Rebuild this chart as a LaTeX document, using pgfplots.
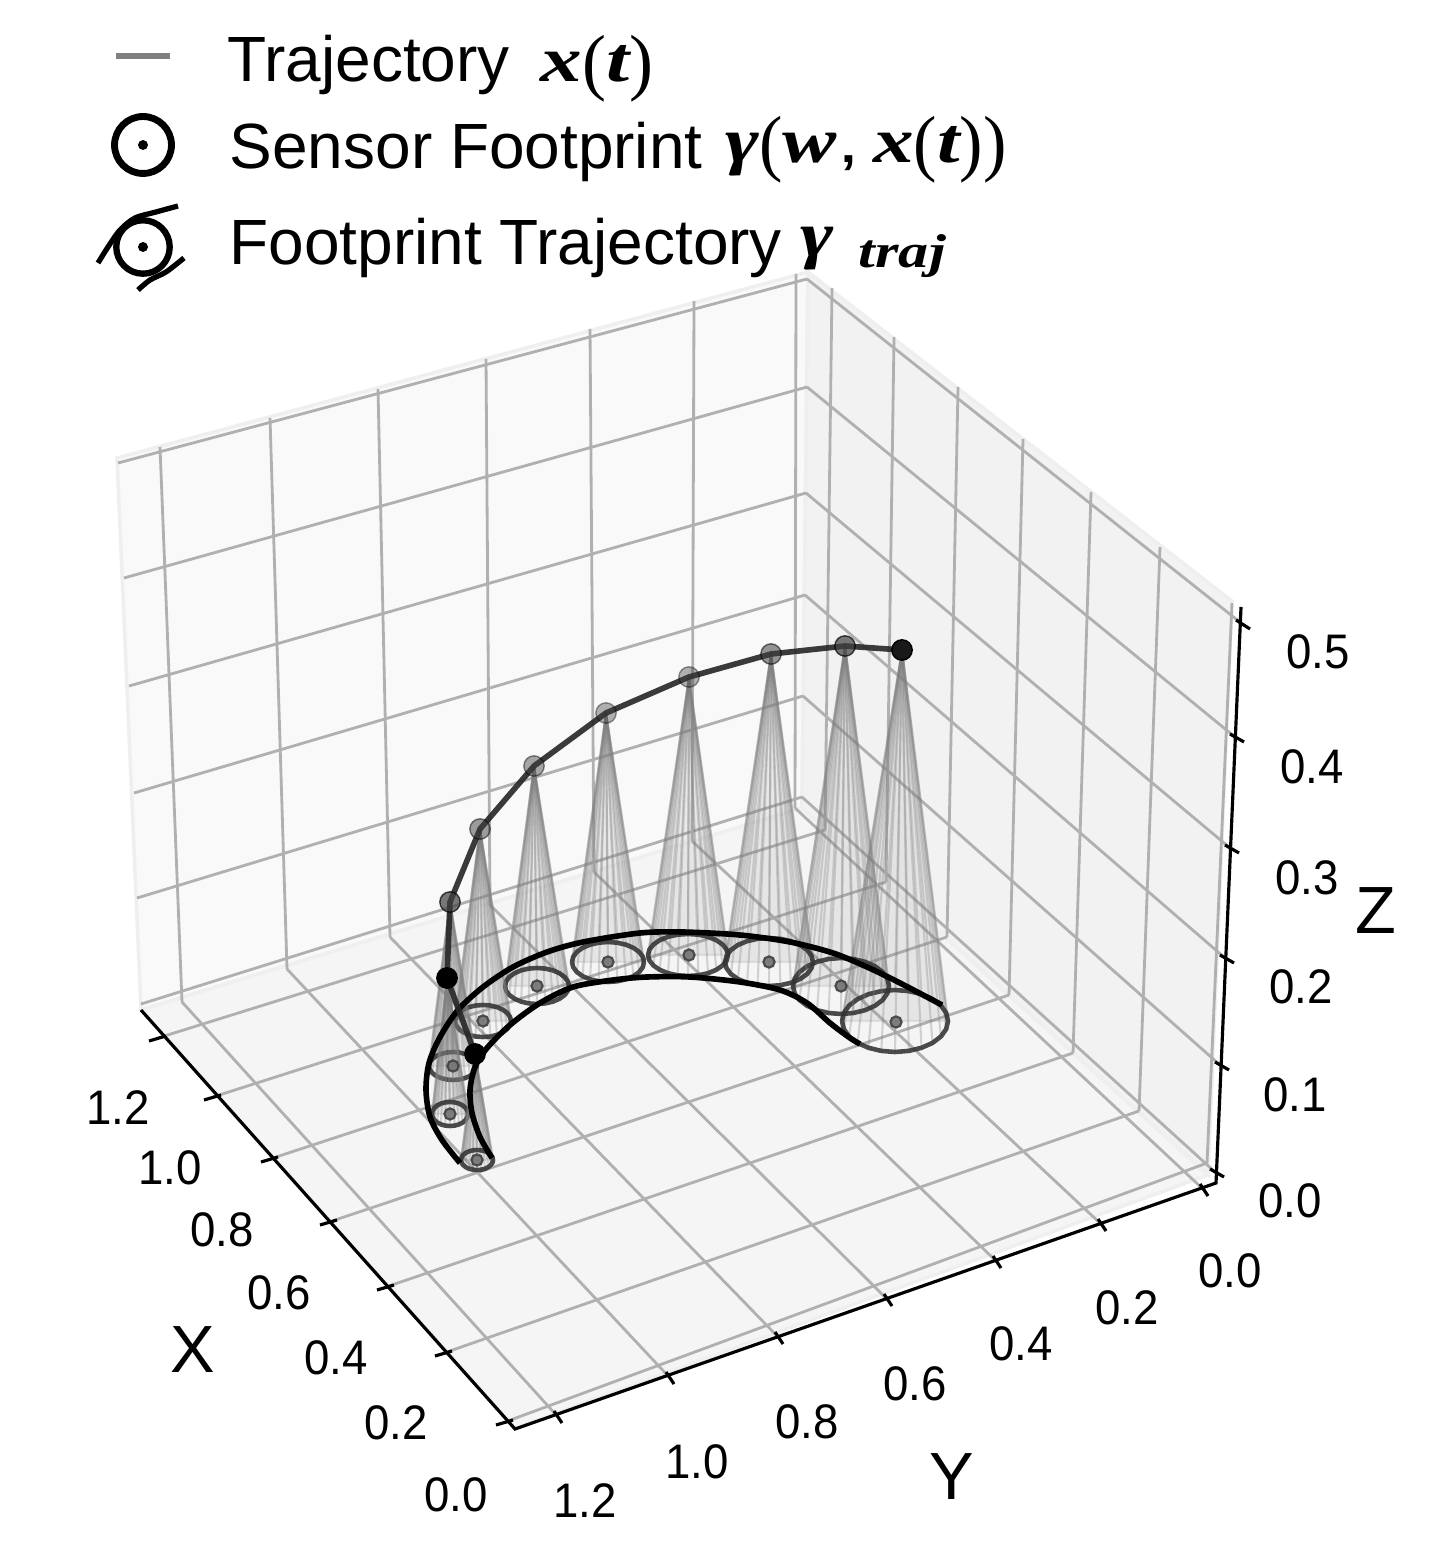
\documentclass[border=0pt]{standalone}
\usepackage{fontspec}
\setmainfont{Liberation Sans}
\newfontfamily\mf{Liberation Serif}
\usepackage{pgfplots}
\usepackage{pgfplotstable}
\pgfplotsset{compat=1.18}

\definecolor{gridc}{HTML}{B0B0B0}
\definecolor{paneL}{HTML}{F9F9F9}
\definecolor{paneR}{HTML}{F2F2F2}
\definecolor{paneF}{HTML}{F5F5F5}
\definecolor{paneE}{HTML}{EFEFEF}

% footprint outlines on the floor, in picture pixels
\pgfplotstableread[row sep=\\]{x y\\493 1160\\492.5 1157.4\\490.9 1155\\488.3 1152.9\\485 1151.3\\481.1 1150.3\\477 1150\\472.9 1150.3\\469 1151.3\\465.7 1152.9\\463.1 1155\\461.5 1157.4\\461 1160\\461.5 1162.6\\463.1 1165\\465.7 1167.1\\469 1168.7\\472.9 1169.7\\477 1170\\481.1 1169.7\\485 1168.7\\488.3 1167.1\\490.9 1165\\492.5 1162.6\\}\Ea
\pgfplotstableread[row sep=\\]{x y\\468 1114\\467.4 1110.9\\465.6 1108\\462.7 1105.5\\459 1103.6\\454.7 1102.4\\450 1102\\445.3 1102.4\\441 1103.6\\437.3 1105.5\\434.4 1108\\432.6 1110.9\\432 1114\\432.6 1117.1\\434.4 1120\\437.3 1122.5\\441 1124.4\\445.3 1125.6\\450 1126\\454.7 1125.6\\459 1124.4\\462.7 1122.5\\465.6 1120\\467.4 1117.1\\}\Eb
\pgfplotstableread[row sep=\\]{x y\\477 1066\\476.2 1062.4\\473.8 1059\\470 1056.1\\465 1053.9\\459.2 1052.5\\453 1052\\446.8 1052.5\\441 1053.9\\436 1056.1\\432.2 1059\\429.8 1062.4\\429 1066\\429.8 1069.6\\432.2 1073\\436 1075.9\\441 1078.1\\446.8 1079.5\\453 1080\\459.2 1079.5\\465 1078.1\\470 1075.9\\473.8 1073\\476.2 1069.6\\}\Ec
\pgfplotstableread[row sep=\\]{x y\\511 1021\\510 1016.9\\507.2 1013\\502.8 1009.7\\497 1007.1\\490.3 1005.5\\483 1005\\475.7 1005.5\\469 1007.1\\463.2 1009.7\\458.8 1013\\456 1016.9\\455 1021\\456 1025.1\\458.8 1029\\463.2 1032.3\\469 1034.9\\475.7 1036.5\\483 1037\\490.3 1036.5\\497 1034.9\\502.8 1032.3\\507.2 1029\\510 1025.1\\}\Ed
\pgfplotstableread[row sep=\\]{x y\\569 986\\567.9 981.3\\564.7 977\\559.6 973.3\\553 970.4\\545.3 968.6\\537 968\\528.7 968.6\\521 970.4\\514.4 973.3\\509.3 977\\506.1 981.3\\505 986\\506.1 990.7\\509.3 995\\514.4 998.7\\521 1001.6\\528.7 1003.4\\537 1004\\545.3 1003.4\\553 1001.6\\559.6 998.7\\564.7 995\\567.9 990.7\\}\Ee
\pgfplotstableread[row sep=\\]{x y\\644 962\\642.8 956.8\\639.2 952\\633.5 947.9\\626 944.7\\617.3 942.7\\608 942\\598.7 942.7\\590 944.7\\582.5 947.9\\576.8 952\\573.2 956.8\\572 962\\573.2 967.2\\576.8 972\\582.5 976.1\\590 979.3\\598.7 981.3\\608 982\\617.3 981.3\\626 979.3\\633.5 976.1\\639.2 972\\642.8 967.2\\}\Ef
\pgfplotstableread[row sep=\\]{x y\\728 955\\726.6 949.6\\722.6 944.5\\716.3 940.2\\708 936.8\\698.4 934.7\\688 934\\677.6 934.7\\668 936.8\\659.7 940.2\\653.4 944.5\\649.4 949.6\\648 955\\649.4 960.4\\653.4 965.5\\659.7 969.8\\668 973.2\\677.6 975.3\\688 976\\698.4 975.3\\708 973.2\\716.3 969.8\\722.6 965.5\\726.6 960.4\\}\Eg
\pgfplotstableread[row sep=\\]{x y\\813 962\\811.5 955.8\\807.1 950\\800.1 945\\791 941.2\\780.4 938.8\\769 938\\757.6 938.8\\747 941.2\\737.9 945\\730.9 950\\726.5 955.8\\725 962\\726.5 968.2\\730.9 974\\737.9 979\\747 982.8\\757.6 985.2\\769 986\\780.4 985.2\\791 982.8\\800.1 979\\807.1 974\\811.5 968.2\\}\Eh
\pgfplotstableread[row sep=\\]{x y\\889 986\\887.4 978.7\\882.6 972\\874.9 966.2\\865 961.8\\853.4 959\\841 958\\828.6 959\\817 961.8\\807.1 966.2\\799.4 972\\794.6 978.7\\793 986\\794.6 993.3\\799.4 1000\\807.1 1005.8\\817 1010.2\\828.6 1013\\841 1014\\853.4 1013\\865 1010.2\\874.9 1005.8\\882.6 1000\\887.4 993.3\\}\Ei
\pgfplotstableread[row sep=\\]{x y\\948 1021\\946.2 1013\\940.9 1005.5\\932.5 999.1\\921.5 994.2\\908.7 991.1\\895 990\\881.3 991.1\\868.5 994.2\\857.5 999.1\\849.1 1005.5\\843.8 1013\\842 1021\\843.8 1029\\849.1 1036.5\\857.5 1042.9\\868.5 1047.8\\881.3 1050.9\\895 1052\\908.7 1050.9\\921.5 1047.8\\932.5 1042.9\\940.9 1036.5\\946.2 1029\\}\Ej

% cone from sensor #2,#3 down to outline #1, whose widest points are #4 and #5 at height #6
\newcommand\cone[6]{
  \addplot[fill=black!50, draw=black!55, line width=0.6pt, opacity=0.13] coordinates {(#2,#3) (#4,#6) (#5,#6)} -- cycle;
  \addplot[no markers, draw=black!50, line width=0.6pt, opacity=0.3,
    quiver={u=#2-\thisrow{x}, v=#3-\thisrow{y}}] table {#1};
  \addplot[draw=black!80, line width=1.3pt, opacity=0.88, line join=round] table {#1} -- cycle;
}
\newcommand\sensormark[4]{
  \addplot[only marks, mark=*, mark size=2.9pt, opacity=#3,
    mark options={fill=black!#4, draw=black}] coordinates {(#1,#2)};
}
\newcommand\ticklab[3]{\node[font=\fontsize{13.8}{16}\selectfont] at (axis cs:#1,#2) {\scalebox{0.94}[1]{#3}};}
\newcommand\axlab[3]{\node[font=\fontsize{19}{22}\selectfont] at (axis cs:#1,#2) {#3};}
\newcommand\mth[1]{{\mf\bfseries\itshape #1}}
% tall thin brackets, undoing the stretch of the formula round them
\newcommand\rp[1]{\raisebox{-1.2pt}{\scalebox{0.75}[1]{\mf\fontsize{21}{21}\selectfont #1}}}

\begin{document}
\begin{tikzpicture}
\path[use as bounding box] (0,0) rectangle (14.35cm,15.57cm);
\begin{axis}[
  at={(0,0)}, anchor=south west, scale only axis,
  width=14.35cm, height=15.57cm,
  xmin=0, xmax=1435, ymin=0, ymax=1557, y dir=reverse,
  hide axis, clip=false, unbounded coords=jump,
  gl/.style={draw=gridc, line width=0.8pt},
  ax/.style={draw=black, line width=0.9pt},
]
% panes
\addplot[fill=paneL, draw=paneE, line width=1pt] coordinates {(117,458) (808,272) (802,808) (141,1010)} -- cycle;
\addplot[fill=paneR, draw=paneE, line width=1pt] coordinates {(808,272) (1232,601) (1208,1175) (802,808)} -- cycle;
\addplot[fill=paneF, draw=paneE, line width=1pt] coordinates {(141,1010) (802,808) (1208,1175) (515,1428)} -- cycle;

% wall grid, left wall
\addplot[gl] coordinates {(118,463) (807,279) (nan,nan) (124,578) (807,387) (nan,nan)
  (129,686) (806,493) (nan,nan) (134,793) (805,595) (nan,nan) (137,898) (803,696) (nan,nan) (141,1004) (802,797)};
\addplot[gl] coordinates {(160,447) (182,1002) (nan,nan) (270,418) (287,969) (nan,nan) (378,389) (390,937) (nan,nan)
  (486,359) (490,905) (nan,nan) (590,329) (594,872) (nan,nan) (694,301) (692,841) (nan,nan) (796,274) (795,808)};
% right wall
\addplot[gl] coordinates {(807,279) (1241,623) (nan,nan) (807,387) (1235,737) (nan,nan) (806,493) (1230,848) (nan,nan)
  (805,595) (1225,958) (nan,nan) (803,696) (1220,1065) (nan,nan) (802,797) (1215,1172)};
\addplot[gl] coordinates {(832,288) (825,830) (nan,nan) (894,337) (886,882) (nan,nan) (958,387) (947,937) (nan,nan)
  (1023,439) (1009,995) (nan,nan) (1091,492) (1073,1053) (nan,nan) (1160,547) (1139,1111) (nan,nan) (1232,603) (1207,1163)};
% floor
\addplot[gl] coordinates {(158,1038) (825,830) (nan,nan) (213,1097) (886,882) (nan,nan) (270,1159) (947,937) (nan,nan)
  (329,1222) (1009,995) (nan,nan) (386,1287) (1073,1053) (nan,nan) (444,1353) (1139,1111) (nan,nan) (505,1422) (1207,1163)};
\addplot[gl] coordinates {(558,1417) (182,1002) (nan,nan) (670,1378) (287,969) (nan,nan) (779,1338) (390,937) (nan,nan)
  (888,1300) (490,905) (nan,nan) (997,1262) (594,872) (nan,nan) (1102,1225) (692,841) (nan,nan) (1204,1190) (795,808)};

% axis lines and ticks
\addplot[ax] coordinates {(141,1010) (515,1429) (1216,1183) (1241,607)};
\addplot[ax] coordinates {(149,1041) (166,1036) (nan,nan) (204,1100) (221,1095) (nan,nan) (261,1162) (278,1157) (nan,nan)
  (320,1225) (337,1220) (nan,nan) (377,1290) (394,1285) (nan,nan) (435,1356) (452,1351) (nan,nan) (496,1425) (513,1420)};
\addplot[ax] coordinates {(554,1411) (562,1423) (nan,nan) (666,1372) (674,1384) (nan,nan) (775,1332) (783,1344) (nan,nan)
  (884,1294) (892,1306) (nan,nan) (993,1256) (1001,1268) (nan,nan) (1098,1219) (1106,1231) (nan,nan) (1200,1184) (1208,1196)};
\addplot[ax] coordinates {(1236,620) (1250,629) (nan,nan) (1230,734) (1244,742) (nan,nan) (1225,845) (1239,853) (nan,nan)
  (1220,955) (1234,963) (nan,nan) (1215,1062) (1229,1070) (nan,nan) (1210,1169) (1224,1177)};

% cones and footprints
\cone{\Ej}{902}{650}{842}{948}{1021}
\cone{\Ei}{845}{646}{793}{889}{986}
\cone{\Eh}{771}{654}{725}{813}{962}
\cone{\Eg}{689}{677}{648}{728}{955}
\cone{\Ef}{606}{713}{572}{644}{962}
\cone{\Ee}{534}{766}{505}{569}{986}
\cone{\Ed}{480}{829}{455}{511}{1021}
\cone{\Ec}{450}{902}{429}{477}{1066}
\cone{\Eb}{447}{978}{432}{468}{1114}
\cone{\Ea}{475}{1054}{461}{493}{1160}

% footprint centres
\addplot[only marks, mark=*, mark size=1.6pt, mark options={fill=black!55, draw=black!75, line width=0.6pt}, opacity=0.9]
  coordinates {(477,1160) (450,1114) (453,1066) (483,1021) (537,986) (608,962) (689,955) (769,962) (841,986) (896,1022)};

% footprint trajectory, outer and inner edge
\addplot[smooth, draw=black, line width=1.6pt] coordinates {(460,1163) (442,1140) (430,1117) (426,1090) (429,1063) (440,1037)
  (458,1010) (483,987) (513,967) (547,952) (583,942) (640,933) (683,932) (740,935) (790,942) (833,953) (867,967) (900,983) (942,1005)};
\addplot[smooth, draw=black, line width=1.6pt] coordinates {(492,1158) (480,1137) (472,1113) (470,1090) (475,1067) (487,1048)
  (510,1025) (540,1003) (573,987) (613,980) (647,977) (690,977) (740,982) (780,990) (807,1003) (830,1023) (850,1038) (860,1044)};

% sensor trajectory
\addplot[draw=black!85, line width=1.6pt, opacity=0.9] coordinates {(475,1054) (447,978) (450,902) (480,829) (534,766) (606,713)
  (689,677) (771,654) (845,646) (902,650)};
\sensormark{606}{713}{0.4}{75}
\sensormark{689}{677}{0.4}{75}
\sensormark{534}{766}{0.45}{75}
\sensormark{480}{829}{0.5}{75}
\sensormark{771}{654}{0.55}{75}
\sensormark{450}{902}{0.7}{75}
\sensormark{845}{646}{0.7}{75}
\sensormark{902}{650}{1}{90}
\sensormark{447}{978}{1}{100}
\sensormark{475}{1054}{1}{100}

% tick labels
\ticklab{118}{1108}{1.2}
\ticklab{170}{1168}{1.0}
\ticklab{222}{1230}{0.8}
\ticklab{279}{1293}{0.6}
\ticklab{336}{1358}{0.4}
\ticklab{396}{1423}{0.2}
\ticklab{456}{1495}{0.0}
\ticklab{585}{1501}{1.2}
\ticklab{697}{1462}{1.0}
\ticklab{807}{1422}{0.8}
\ticklab{915}{1384}{0.6}
\ticklab{1021}{1344}{0.4}
\ticklab{1127}{1308}{0.2}
\ticklab{1230}{1271}{0.0}
\ticklab{1290}{1201}{0.0}
\ticklab{1295}{1095}{0.1}
\ticklab{1301}{987}{0.2}
\ticklab{1307}{878}{0.3}
\ticklab{1312}{767}{0.4}
\ticklab{1318}{652}{0.5}
\axlab{193}{1350}{X}
\axlab{952}{1477}{Y}
\axlab{1376}{911}{Z}

% legend
\addplot[draw=black!50, line width=1.7pt] coordinates {(116,56) (170,56)};
\addplot[only marks, mark=o, mark size=8.1pt, mark options={draw=black, line width=1.95pt}] coordinates {(143,145)};
\addplot[only marks, mark=*, mark size=1.2pt, mark options={fill=black, draw=black}] coordinates {(143,145) (143,247)};
\addplot[only marks, mark=o, mark size=7.6pt, mark options={draw=black, line width=1.8pt}] coordinates {(143,247)};
\addplot[smooth, draw=black, line width=1.5pt] coordinates {(98,263) (108,247) (120,230) (135,218) (156,212) (178,206)};
\addplot[smooth, draw=black, line width=1.5pt] coordinates {(138,290) (150,280) (166,272) (184,258)};
\tikzset{lg/.style={anchor=base west, inner sep=0pt, font=\fontsize{18.2}{22}\selectfont}}
\node[lg] at (axis cs:227,82) {Trajectory};
\node[lg] at (axis cs:229,169) {Sensor Footprint};
\node[lg] at (axis cs:229,265) {Footprint Trajectory};
\node[lg] at (axis cs:540,82) {\scalebox{1.3}[1]{\mth{x}\rp{(}\mth{t}\rp{)}}};
\node[lg] at (axis cs:725,163) {\scalebox{1.27}[1]{\mth{γ}\rp{(}\mth{w},\,\mth{x}\rp{(}\mth{t}\rp{))}}};
\node[lg] at (axis cs:800,257) {\scalebox{1.25}[1]{\mth{γ}}};
\node[lg] at (axis cs:858,268) {\fontsize{13.5}{16}\selectfont\scalebox{1.27}[1]{\mth{traj}}};
\end{axis}
\end{tikzpicture}
\end{document}
